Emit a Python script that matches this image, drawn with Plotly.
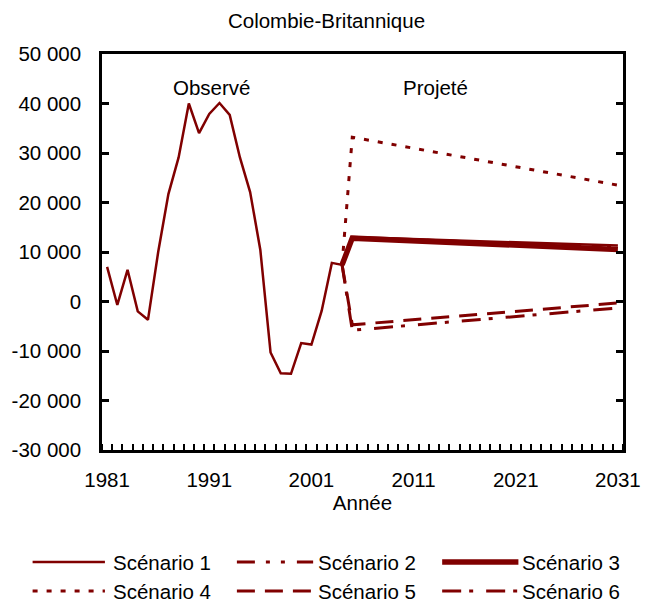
import plotly.graph_objects as go

# observed data (1981-2004)
years_obs = list(range(1981, 2005))
observed = [7000, -700, 6400, -2000, -3700, 10000, 21700, 29100, 40000, 34000,
            37900, 40100, 37700, 29100, 22100, 10400, -10300, -14500, -14600, -8400,
            -8700, -1900, 7800, 7400]

# projections, read at the line vertices
proj_years = [2004, 2005, 2031]
scen1 = [7400, 13000, 11300]
scen2 = [7400, 12900, 11000]
scen3 = [7400, 12800, 10500]
scen4 = [7400, 33200, 23500]
scen5 = [7400, -4700, -300]
scen6 = [7400, -5800, -1300]

scen_names = ['Scénario 1', 'Scénario 2', 'Scénario 3',
              'Scénario 4', 'Scénario 5', 'Scénario 6']

x_ticks = [1981, 1991, 2001, 2011, 2021, 2031]
y_ticks = [-30000, -20000, -10000, 0, 10000, 20000, 30000, 40000, 50000]
y_labels = ['-30 000', '-20 000', '-10 000', '0', '10 000', '20 000',
            '30 000', '40 000', '50 000']

RED = '#800000'
FONT = 'Liberation Sans, Arial, sans-serif'
FS = 20.5

styles = [
    dict(width=2.5, dash='solid'),
    dict(width=3, dash='18px,11px,4px,11px,4px,12px'),
    dict(width=5.5, dash='solid'),
    dict(width=3, dash='5px,9px'),
    dict(width=3, dash='18px,10px'),
    dict(width=3, dash='19px,8px,4px,13px'),
]

series = [
    (years_obs + proj_years[1:], observed + scen1[1:]),
    (proj_years, scen2),
    (proj_years, scen3),
    (proj_years, scen4),
    (proj_years, scen5),
    (proj_years, scen6),
]

fig = go.Figure()

# draw order: thick one under the thin ones
for i in [2, 3, 4, 5, 1, 0]:
    xs, ys = series[i]
    fig.add_trace(go.Scatter(x=xs, y=ys, mode='lines', name=scen_names[i],
                             line=dict(color=RED, width=styles[i]['width'], dash=styles[i]['dash']),
                             showlegend=False))

# plot area in pixels
L, R, T, B = 100, 633, 54, 450
W, H = 653, 603


def px(x):
    return (x - L) / (R - L)


def py(y):
    return (B - y) / (B - T)


# hand drawn legend (two rows, three columns)
cols = [(29, 103, 110), (238, 316, 320), (448, 526, 529)]
rows = [562, 591]
for i, name in enumerate(scen_names):
    x0, x1, xt = cols[i % 3]
    yy = rows[i // 3]
    fig.add_shape(type='line', xref='paper', yref='paper',
                  x0=px(x0), x1=px(x1), y0=py(yy), y1=py(yy),
                  line=dict(color=RED, width=styles[i]['width'], dash=styles[i]['dash']))
    fig.add_annotation(text=name, xref='paper', yref='paper', x=px(xt), y=py(yy),
                       xanchor='left', yanchor='middle', showarrow=False, borderpad=0,
                       font=dict(family=FONT, size=FS, color='black'))

fig.add_annotation(text='Observé', x=1991.2, y=43300, showarrow=False,
                   font=dict(family=FONT, size=FS, color='black'))
fig.add_annotation(text='Projeté', x=2013.1, y=43300, showarrow=False,
                   font=dict(family=FONT, size=FS, color='black'))

fig.update_layout(
    width=W, height=H,
    margin=dict(l=L, r=W - R, t=T, b=H - B),
    plot_bgcolor='white', paper_bgcolor='white',
    font=dict(family=FONT, size=FS, color='black'),
    title=dict(text='Colombie-Britannique', x=0.5, xref='container', xanchor='center',
               y=1 - 21 / H, yanchor='middle', font=dict(family=FONT, size=FS, color='black')),
    showlegend=False,
)

fig.update_xaxes(
    range=[1980.5, 2031.5], tickvals=x_ticks, ticks='', showgrid=False, zeroline=False,
    showline=True, linecolor='black', linewidth=2.5, mirror=True,
    ticklabelstandoff=10,
    minor=dict(ticks='inside', tick0=1980.5, dtick=1, ticklen=6, tickwidth=2,
               tickcolor='black', showgrid=False),
    title=dict(text='Année', standoff=0, font=dict(family=FONT, size=FS, color='black')),
)

fig.update_yaxes(
    range=[-30000, 50000], tickvals=y_ticks, ticktext=y_labels,
    ticks='inside', ticklen=7, tickwidth=2.5, tickcolor='black',
    showgrid=False, zeroline=False,
    showline=True, linecolor='black', linewidth=2.5, mirror='ticks',
    ticklabelstandoff=14,
)

# the page body has a default 8px margin, drop it so the figure fills the window
fig.write_html("out.html", config={'displayModeBar': False},
               post_script="document.body.style.margin = '0';")
